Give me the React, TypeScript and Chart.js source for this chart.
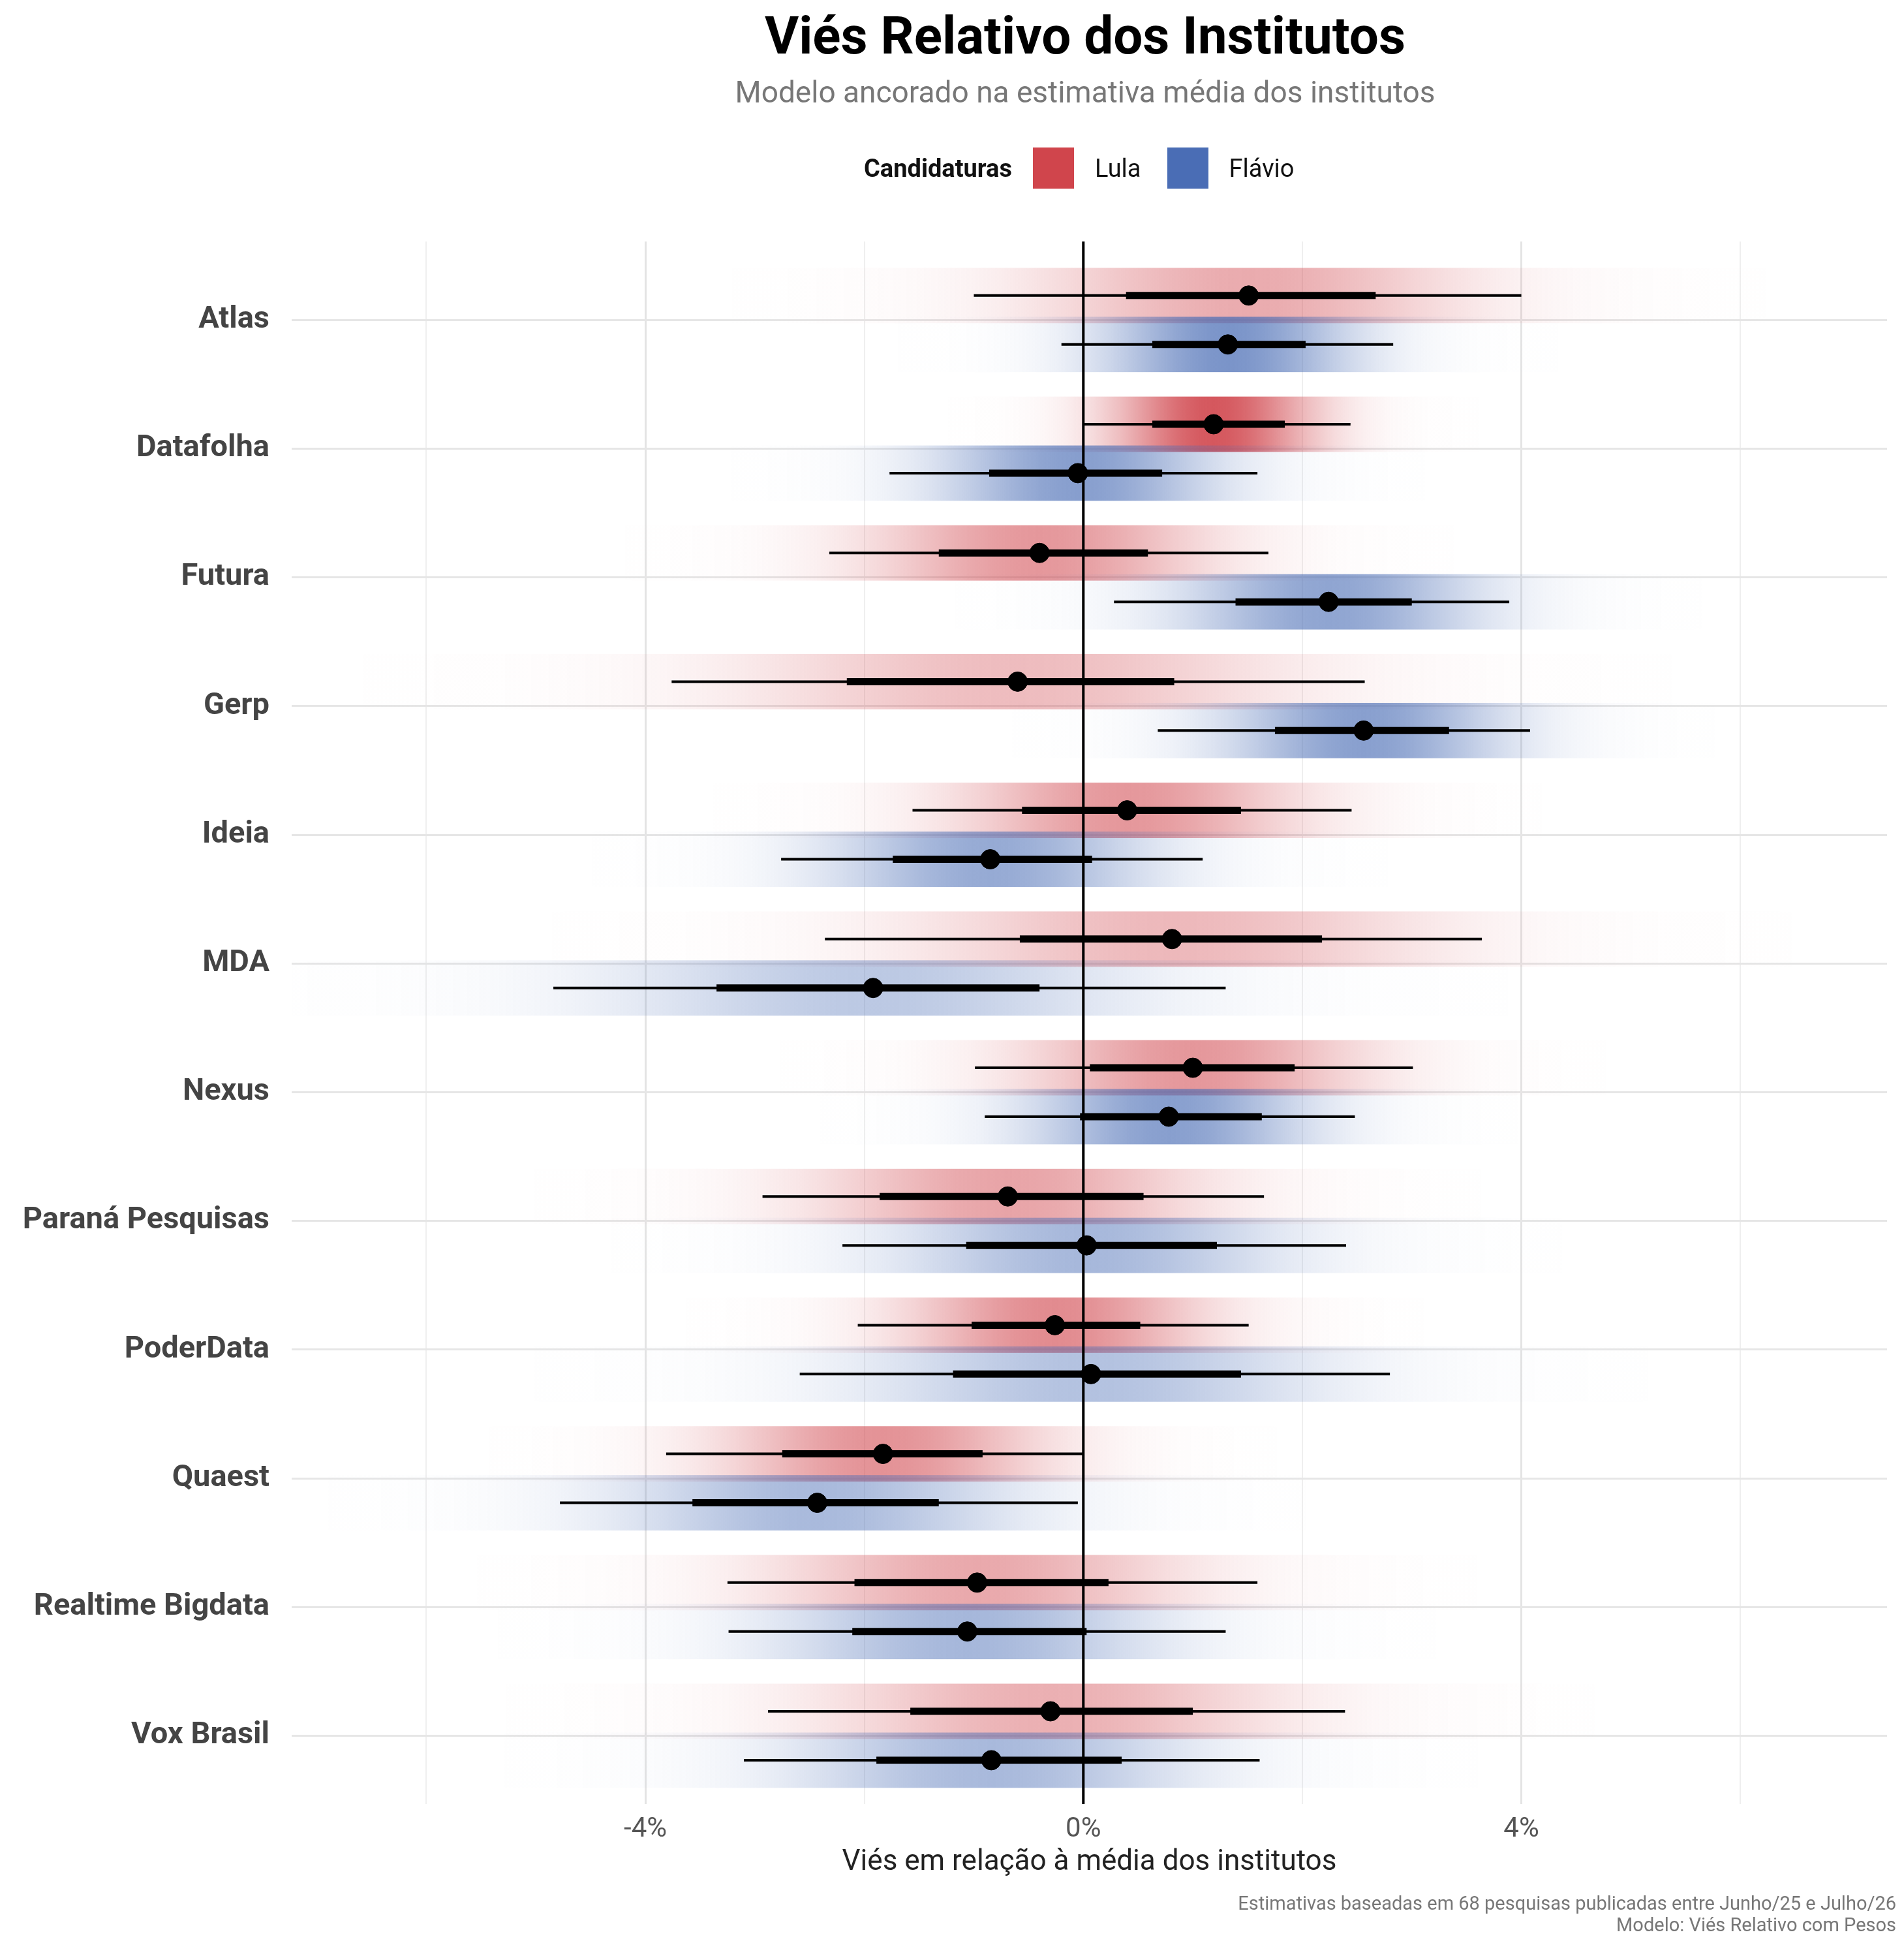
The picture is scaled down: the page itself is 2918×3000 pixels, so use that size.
import React, { useEffect, useRef } from "react";
import { Chart, registerables } from "chart.js";
Chart.register(...registerables);

const institutes = ["Atlas","Datafolha","Futura","Gerp","Ideia","MDA","Nexus","Paraná Pesquisas","PoderData","Quaest","Realtime Bigdata","Vox Brasil"];
const lulaMid = [1.51,1.19,-0.4,-0.6,0.4,0.81,1.0,-0.69,-0.26,-1.83,-0.97,-0.3];
const lulaInLo = [0.39,0.63,-1.32,-2.16,-0.56,-0.58,0.06,-1.86,-1.02,-2.75,-2.09,-1.58];
const lulaInHi = [2.67,1.84,0.59,0.83,1.44,2.18,1.93,0.55,0.52,-0.92,0.23,1.0];
const lulaOutLo = [-1.0,0.0,-2.32,-3.76,-1.56,-2.36,-0.99,-2.93,-2.06,-3.81,-3.25,-2.88];
const lulaOutHi = [4.0,2.44,1.69,2.57,2.45,3.64,3.01,1.65,1.51,0.0,1.59,2.39];
const flaMid = [1.32,-0.05,2.24,2.56,-0.85,-1.92,0.78,0.03,0.07,-2.43,-1.06,-0.84];
const flaInLo = [0.63,-0.86,1.39,1.75,-1.74,-3.35,-0.03,-1.07,-1.19,-3.57,-2.11,-1.89];
const flaInHi = [2.03,0.72,3.0,3.34,0.08,-0.4,1.63,1.22,1.44,-1.32,0.03,0.35];
const flaOutLo = [-0.2,-1.77,0.28,0.68,-2.76,-4.84,-0.9,-2.2,-2.59,-4.78,-3.24,-3.1];
const flaOutHi = [2.83,1.59,3.89,4.08,1.09,1.3,2.48,2.4,2.8,-0.05,1.3,1.61];
const xTicks = [-6,-4,-2,0,2,4,6];

const RED = [208, 69, 76];
const BLUE = [74, 109, 181];
const OFF = 0.19;
const FONT = "Roboto, 'Noto Sans', sans-serif";

const series = [
  { name: "Lula", rgb: RED, off: -OFF, mid: lulaMid, inLo: lulaInLo, inHi: lulaInHi, outLo: lulaOutLo, outHi: lulaOutHi },
  { name: "Flávio", rgb: BLUE, off: OFF, mid: flaMid, inLo: flaInLo, inHi: flaInHi, outLo: flaOutLo, outHi: flaOutHi },
];

const bandPlugin = {
  id: "bands",
  beforeDatasetsDraw(chart: any) {
    const { ctx, scales: { x, y }, chartArea } = chart;
    ctx.save();
    ctx.beginPath();
    ctx.rect(chartArea.left, chartArea.top, chartArea.width, chartArea.height);
    ctx.clip();
    for (const s of series) {
      institutes.forEach((_, i) => {
        const m = s.mid[i];
        const sd = (s.outHi[i] - s.outLo[i]) / 3.92;
        const peak = Math.min(0.88, 0.55 / sd);
        const lo = m - 4 * sd, hi = m + 4 * sd;
        const x0 = x.getPixelForValue(lo), x1 = x.getPixelForValue(hi);
        const g = ctx.createLinearGradient(x0, 0, x1, 0);
        for (let k = 0; k <= 40; k++) {
          const z = -4 + (8 * k) / 40;
          const a = peak * Math.exp(-(z * z) / 2) + 0.02 * (1 - Math.abs(z) / 4);
          g.addColorStop(k / 40, `rgba(${s.rgb[0]},${s.rgb[1]},${s.rgb[2]},${a.toFixed(3)})`);
        }
        const yc = y.getPixelForValue(i + s.off);
        const h = Math.abs(y.getPixelForValue(0.215) - y.getPixelForValue(0));
        ctx.fillStyle = g;
        ctx.fillRect(x0, yc - h, x1 - x0, 2 * h);
      });
    }
    const zx = x.getPixelForValue(0);
    ctx.strokeStyle = "#000";
    ctx.lineWidth = 4;
    ctx.beginPath();
    ctx.moveTo(zx, chartArea.top);
    ctx.lineTo(zx, chartArea.bottom);
    ctx.stroke();
    for (const s of series) {
      institutes.forEach((_, i) => {
        const yc = y.getPixelForValue(i + s.off);
        ctx.lineWidth = 4;
        ctx.beginPath();
        ctx.moveTo(x.getPixelForValue(s.outLo[i]), yc);
        ctx.lineTo(x.getPixelForValue(s.outHi[i]), yc);
        ctx.stroke();
        ctx.lineWidth = 11;
        ctx.beginPath();
        ctx.moveTo(x.getPixelForValue(s.inLo[i]), yc);
        ctx.lineTo(x.getPixelForValue(s.inHi[i]), yc);
        ctx.stroke();
      });
    }
    ctx.restore();
  },
};

export default function App() {
  const ref = useRef<HTMLCanvasElement>(null);
  useEffect(() => {
    const chart = new Chart(ref.current!, {
      type: "scatter",
      data: {
        datasets: series.map((s) => ({
          label: s.name,
          data: institutes.map((_, i) => ({ x: s.mid[i], y: i + s.off })),
          backgroundColor: "#000",
          borderColor: "#000",
          pointRadius: 15,
          pointHoverRadius: 15,
        })),
      },
      options: {
        responsive: false,
        animation: false,
        layout: { padding: { left: 8, right: 18, top: 362, bottom: 108 } },
        plugins: { legend: { display: false }, tooltip: { enabled: false } },
        scales: {
          x: {
            type: "linear",
            min: -7.23,
            max: 7.34,
            afterBuildTicks: (sc: any) => { sc.ticks = xTicks.map((v) => ({ value: v })); },
            afterFit: (sc: any) => { sc.height = 120; },
            border: { display: false },
            grid: {
              color: (c: any) => (c.tick && c.tick.value % 4 === 0 ? "#e4e4e4" : "#efefef"),
              lineWidth: (c: any) => (c.tick && c.tick.value % 4 === 0 ? 3 : 2),
              drawTicks: false,
            },
            ticks: {
              padding: 14,
              color: "#555",
              font: { size: 42, family: FONT },
              callback: (v: any) => (v % 4 === 0 ? `${v}%` : ""),
            },
            title: {
              display: true,
              text: "Viés em relação à média dos institutos",
              color: "#222",
              font: { size: 44, family: FONT },
              padding: { top: 4 },
            },
          },
          y: {
            type: "linear",
            reverse: true,
            min: -0.61,
            max: 11.53,
            afterBuildTicks: (sc: any) => { sc.ticks = institutes.map((_, i) => ({ value: i })); },
            afterFit: (sc: any) => { sc.width = 431; },
            border: { display: false },
            grid: { color: "#e6e6e6", lineWidth: 3, drawTicks: false },
            ticks: {
              padding: 34,
              color: "#444",
              font: { size: 47, weight: "bold", family: FONT },
              callback: (v: any) => institutes[v] ?? "",
            },
          },
        },
      },
      plugins: [bandPlugin],
    } as any);
    return () => chart.destroy();
  }, []);

  const box = (c: number[]) => ({ display: "inline-block", width: 63, height: 63, background: `rgb(${c.join(",")})`, marginRight: 32 });
  return (
    <div style={{ position: "relative", width: 2902, height: 2984, fontFamily: FONT, background: "#fff" }}>
      <canvas ref={ref} width={2902} height={2984} style={{ position: "absolute", left: 0, top: 0 }} />
      <div style={{ position: "absolute", top: 0, left: 0, width: 3310, textAlign: "center", fontSize: 80, fontWeight: "bold", color: "#000" }}>
        Viés Relativo dos Institutos
      </div>
      <div style={{ position: "absolute", top: 106, left: 0, width: 3310, textAlign: "center", fontSize: 46, color: "#777" }}>
        Modelo ancorado na estimativa média dos institutos
      </div>
      <div style={{ position: "absolute", top: 218, left: 1316, display: "flex", alignItems: "center", fontSize: 38, color: "#111" }}>
        <span style={{ fontWeight: "bold", marginRight: 32 }}>Candidaturas</span>
        <span style={box(RED)} />
        <span style={{ marginRight: 40 }}>Lula</span>
        <span style={box(BLUE)} />
        <span>Flávio</span>
      </div>
      <div style={{ position: "absolute", top: 2892, right: 4, textAlign: "right", fontSize: 29, color: "#777", lineHeight: "33px" }}>
        Estimativas baseadas em 68 pesquisas publicadas entre Junho/25 e Julho/26<br />Modelo: Viés Relativo com Pesos
      </div>
    </div>
  );
}
